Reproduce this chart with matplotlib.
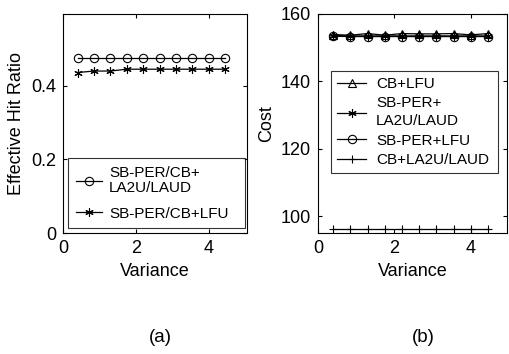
import numpy as np
import matplotlib.pyplot as plt

plt.rcParams['font.family'] = ['Liberation Sans', 'DejaVu Sans']

variance = [0.4, 0.85, 1.3, 1.75, 2.2, 2.65, 3.1, 3.55, 4.0, 4.45]

# (a) effective hit ratio
hit_sbper_cb_la2u = [0.475, 0.475, 0.475, 0.475, 0.475, 0.475, 0.475, 0.475, 0.475, 0.475]
hit_sbper_cb_lfu = [0.436, 0.44, 0.44, 0.445, 0.445, 0.445, 0.445, 0.445, 0.445, 0.445]

# (b) cost
cost_cb_lfu = [153.9, 153.7, 154.2, 153.7, 154.2, 154.1, 154.1, 154.2, 153.8, 154.2]
cost_sbper_la2u = [153.6, 153.5, 153.5, 153.5, 153.5, 153.5, 153.5, 153.5, 153.5, 153.5]
cost_sbper_lfu = [153.4, 153.3, 153.3, 153.3, 153.3, 153.3, 153.3, 153.3, 153.3, 153.3]
cost_cb_la2u = [96.2, 96.2, 96.2, 96.2, 96.2, 96.2, 96.2, 96.2, 96.2, 96.2]

W, H = 509, 354
fig = plt.figure(figsize=(W / 100, H / 100), dpi=100)
ax1 = fig.add_axes([63 / W, 1 - 233 / H, 184 / W, 219 / H])
ax2 = fig.add_axes([318 / W, 1 - 233 / H, 189 / W, 219 / H])

star = (6, 2, 0)  # asterisk
mk = dict(color='black', lw=0.9, markersize=6, markerfacecolor='none', markeredgewidth=0.8)

ax1.plot(variance, hit_sbper_cb_la2u, marker='o', label='SB-PER/CB+\nLA2U/LAUD', **mk)
ax1.plot(variance, hit_sbper_cb_lfu, marker=star, label='SB-PER/CB+LFU', **mk)
ax1.set_xlim(0, 5.05)
ax1.set_ylim(0, 0.595)
ax1.set_xticks([0, 2, 4])
ax1.set_yticks([0, 0.2, 0.4])
ax1.set_yticklabels(['0', '0.2', '0.4'])
ax1.set_xlabel('Variance', fontsize=13)
ax1.set_ylabel('Effective Hit Ratio', fontsize=13)
leg1 = ax1.legend(loc='upper left', bbox_to_anchor=(68 / W, 1 - 158 / H - 0.001, 177 / W, 0.001),
                  bbox_transform=fig.transFigure, mode='expand', borderaxespad=0,
                  fontsize=11, frameon=True, fancybox=False, edgecolor='black',
                  handlelength=1.75, handletextpad=0.45, borderpad=0.5, labelspacing=0.75)
for t in leg1.get_texts():
    t.set_linespacing(1.15)
leg1.get_frame().set_linewidth(0.8)

ax2.plot(variance, cost_cb_lfu, marker='^', label='CB+LFU', **mk)
ax2.plot(variance, cost_sbper_la2u, marker=star, label='SB-PER+\nLA2U/LAUD', **mk)
ax2.plot(variance, cost_sbper_lfu, marker='o', label='SB-PER+LFU', **mk)
ax2.plot(variance, cost_cb_la2u, marker='+', label='CB+LA2U/LAUD', **mk)
ax2.set_xlim(0, 4.95)
ax2.set_ylim(95, 160)
ax2.set_xticks([0, 2, 4])
ax2.set_yticks([100, 120, 140, 160])
ax2.set_xlabel('Variance', fontsize=13)
ax2.set_ylabel('Cost', fontsize=13)
leg2 = ax2.legend(loc='upper left', bbox_to_anchor=(331 / W, 1 - 71 / H - 0.001, 167 / W, 0.001),
                  bbox_transform=fig.transFigure, mode='expand', borderaxespad=0,
                  fontsize=11, frameon=True, fancybox=False, edgecolor='black',
                  handlelength=1.9, handletextpad=0.65, borderpad=0.4, labelspacing=0.35)
for t in leg2.get_texts():
    t.set_linespacing(1.35)
leg2.get_frame().set_linewidth(0.8)

for ax in (ax1, ax2):
    ax.tick_params(direction='in', top=True, right=True, labelsize=13, length=3, pad=5)
    for s in ax.spines.values():
        s.set_linewidth(0.8)

fig.text(160 / W, 1 - 338 / H, '(a)', ha='center', va='center', fontsize=13.5)
fig.text(423 / W, 1 - 338 / H, '(b)', ha='center', va='center', fontsize=13.5)

fig.savefig('out.png', dpi=100)
